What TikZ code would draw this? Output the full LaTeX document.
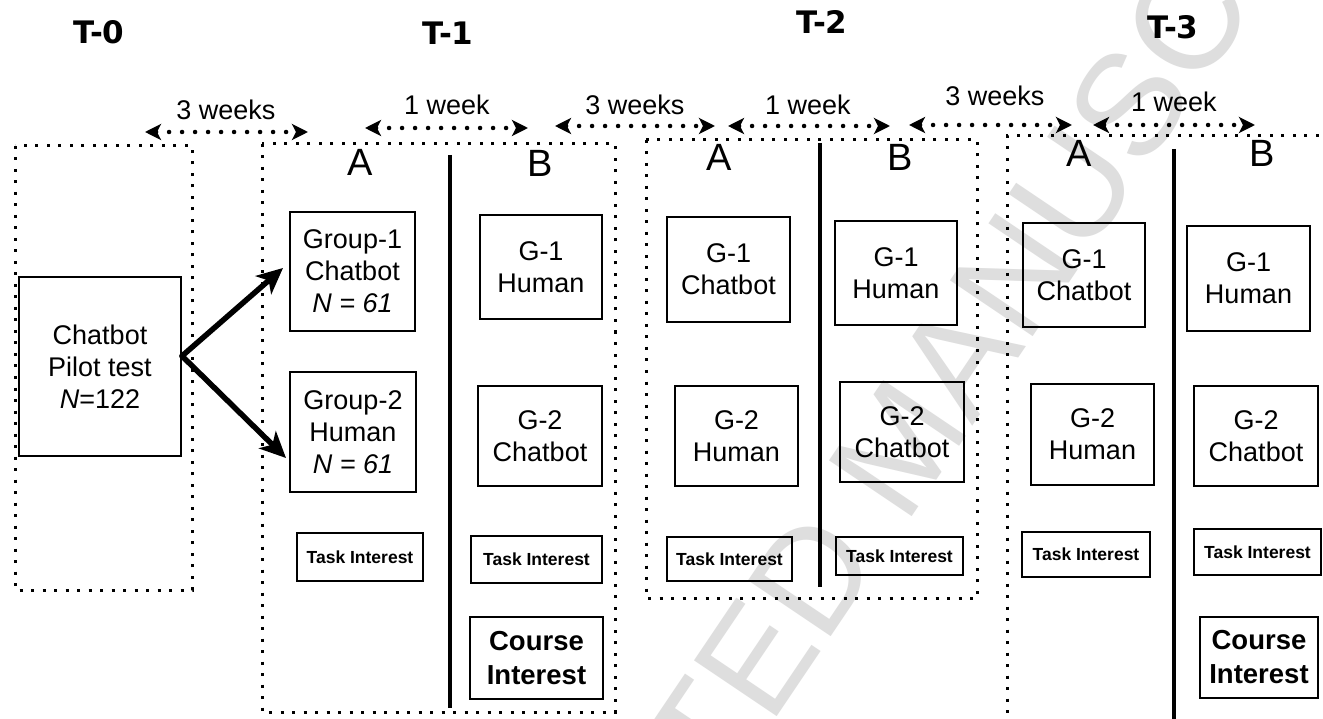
\documentclass[tikz,border=0pt]{standalone}
\usepackage{fontspec}
\setmainfont{Liberation Sans}
\newfontfamily\headfont{DejaVu Sans}
\usetikzlibrary{arrows.meta}
\begin{document}
\begin{tikzpicture}[x=1pt,y=-1pt,
 box/.style={draw,line width=2.6pt,inner sep=0pt,align=center,font=\fontsize{27}{32}\selectfont},
 taskbox/.style={draw,line width=2.6pt,inner sep=0pt,align=center,font=\bfseries\fontsize{17.5}{20}\selectfont},
 coursebox/.style={draw,line width=2.6pt,inner sep=0pt,align=center,font=\bfseries\fontsize{27.5}{34}\selectfont},
 phase/.style={line width=3pt,dash pattern=on 3pt off 8.5pt},
 divider/.style={line width=3.5pt},
 gap/.style={line width=4.5pt,line cap=round,dash pattern=on 0pt off 13pt,{Stealth[length=16pt,width=16pt,inset=4pt]}-{Stealth[length=16pt,width=16pt,inset=4pt]}},
 split/.style={line width=5.5pt,line cap=round,-{Stealth[length=26pt,width=24pt,inset=7pt]}},
 head/.style={font=\headfont\bfseries\fontsize{31}{31}\selectfont},
 ablabel/.style={font=\fontsize{38}{38}\selectfont},
 gaplabel/.style={font=\fontsize{27}{27}\selectfont},
 watermark/.style={text=black!13,font=\fontsize{145}{145}\selectfont,rotate=56}
]
\useasboundingbox (0,0) rectangle (1323,719);
\fill[white] (0,0) rectangle (1323,719);

% watermark
\node[watermark] (wm) at (900,445) {ACCEPTED MANUSCRIPT};

% headers
\node[head] (h0) at (99,32) {T-0};
\node[head] (h1) at (448,33) {T-1};
\node[head] (h2) at (822,22) {T-2};
\node[head] (h3) at (1173,27) {T-3};

% gap labels
\node[gaplabel] (w1) at (226,110) {3 weeks};
\node[gaplabel] (w2) at (447,105) {1 week};
\node[gaplabel] (w3) at (635,105) {3 weeks};
\node[gaplabel] (w4) at (808,105) {1 week};
\node[gaplabel] (w5) at (995,96) {3 weeks};
\node[gaplabel] (w6) at (1174,102) {1 week};

% gap arrows
\coordinate (g1l) at (145,132); \coordinate (g1r) at (308,132);
\coordinate (g2l) at (365,128); \coordinate (g2r) at (528,128);
\coordinate (g3l) at (555,126); \coordinate (g3r) at (715,126);
\coordinate (g4l) at (728,126); \coordinate (g4r) at (890,126);
\coordinate (g5l) at (909,125); \coordinate (g5r) at (1072,125);
\coordinate (g6l) at (1093,125); \coordinate (g6r) at (1255,125);
\draw[gap] (g1l) -- (g1r);
\draw[gap] (g2l) -- (g2r);
\draw[gap] (g3l) -- (g3r);
\draw[gap] (g4l) -- (g4r);
\draw[gap] (g5l) -- (g5r);
\draw[gap] (g6l) -- (g6r);

% phase frames
\draw[phase] (15,146) rectangle (192,590);
\draw[phase] (262,144) rectangle (615,712);
\draw[phase] (646,140) rectangle (977,598);
\draw[phase] (1330,136) -- (1007,136) -- (1007,725);

% dividers
\draw[divider] (450,155) -- (450,708);
\draw[divider] (820,143) -- (820,587);
\draw[divider] (1174,149) -- (1174,725);

% A/B labels
\node[ablabel] (a1) at (360,162.5) {A};
\node[ablabel] (b1) at (540,163) {B};
\node[ablabel] (a2) at (719,157) {A};
\node[ablabel] (b2) at (900,157) {B};
\node[ablabel] (a3) at (1079.5,153) {A};
\node[ablabel] (b3) at (1262,153.5) {B};

% T-0
\node[box,minimum width=162pt,minimum height=179pt] (pilot) at (100,366.5) {Chatbot\\Pilot test\\\textit{N}=122};

% T-1
\node[box,minimum width=125pt,minimum height=119pt] (g1a1) at (352.5,271.5) {Group-1\\Chatbot\\\textit{N = 61}};
\node[box,minimum width=126pt,minimum height=120pt] (g2a1) at (353,432) {Group-2\\Human\\\textit{N = 61}};
\node[taskbox,minimum width=126pt,minimum height=48pt] (tia1) at (360,557) {Task Interest};
\node[box,minimum width=122pt,minimum height=104pt] (g1b1) at (541,267) {G-1\\Human};
\node[box,minimum width=124pt,minimum height=100pt] (g2b1) at (540,436) {G-2\\Chatbot};
\node[taskbox,minimum width=131pt,minimum height=47pt] (tib1) at (536.5,559.5) {Task Interest};
\node[coursebox,minimum width=133pt,minimum height=82pt] (cib1) at (536.5,658) {Course\\Interest};

% T-2
\node[box,minimum width=123pt,minimum height=105pt] (g1a2) at (728.5,269.5) {G-1\\Chatbot};
\node[box,minimum width=123pt,minimum height=100pt] (g2a2) at (736.5,436) {G-2\\Human};
\node[taskbox,minimum width=125pt,minimum height=44pt] (tia2) at (729.5,559) {Task Interest};
\node[box,minimum width=122pt,minimum height=104pt] (g1b2) at (896,273) {G-1\\Human};
\node[box,minimum width=124pt,minimum height=100pt] (g2b2) at (902,432) {G-2\\Chatbot};
\node[taskbox,minimum width=127pt,minimum height=38pt] (tib2) at (899.5,556) {Task Interest};

% T-3
\node[box,minimum width=122pt,minimum height=104pt] (g1a3) at (1084,275) {G-1\\Chatbot};
\node[box,minimum width=123pt,minimum height=101pt] (g2a3) at (1092.5,434.5) {G-2\\Human};
\node[taskbox,minimum width=128pt,minimum height=45pt] (tia3) at (1086,554.5) {Task Interest};
\node[box,minimum width=123pt,minimum height=105pt] (g1b3) at (1248.5,278.5) {G-1\\Human};
\node[box,minimum width=124pt,minimum height=100pt] (g2b3) at (1256,436) {G-2\\Chatbot};
\node[taskbox,minimum width=127pt,minimum height=46pt] (tib3) at (1257.5,552) {Task Interest};
\node[coursebox,minimum width=118pt,minimum height=81pt] (cib3) at (1259,657.5) {Course\\Interest};

% split arrows
\coordinate (src) at (182,356);
\coordinate (t1) at (283,268);
\coordinate (t2) at (286,458);
\draw[split] (src) -- (t1);
\draw[split] (src) -- (t2);
\end{tikzpicture}
\end{document}
